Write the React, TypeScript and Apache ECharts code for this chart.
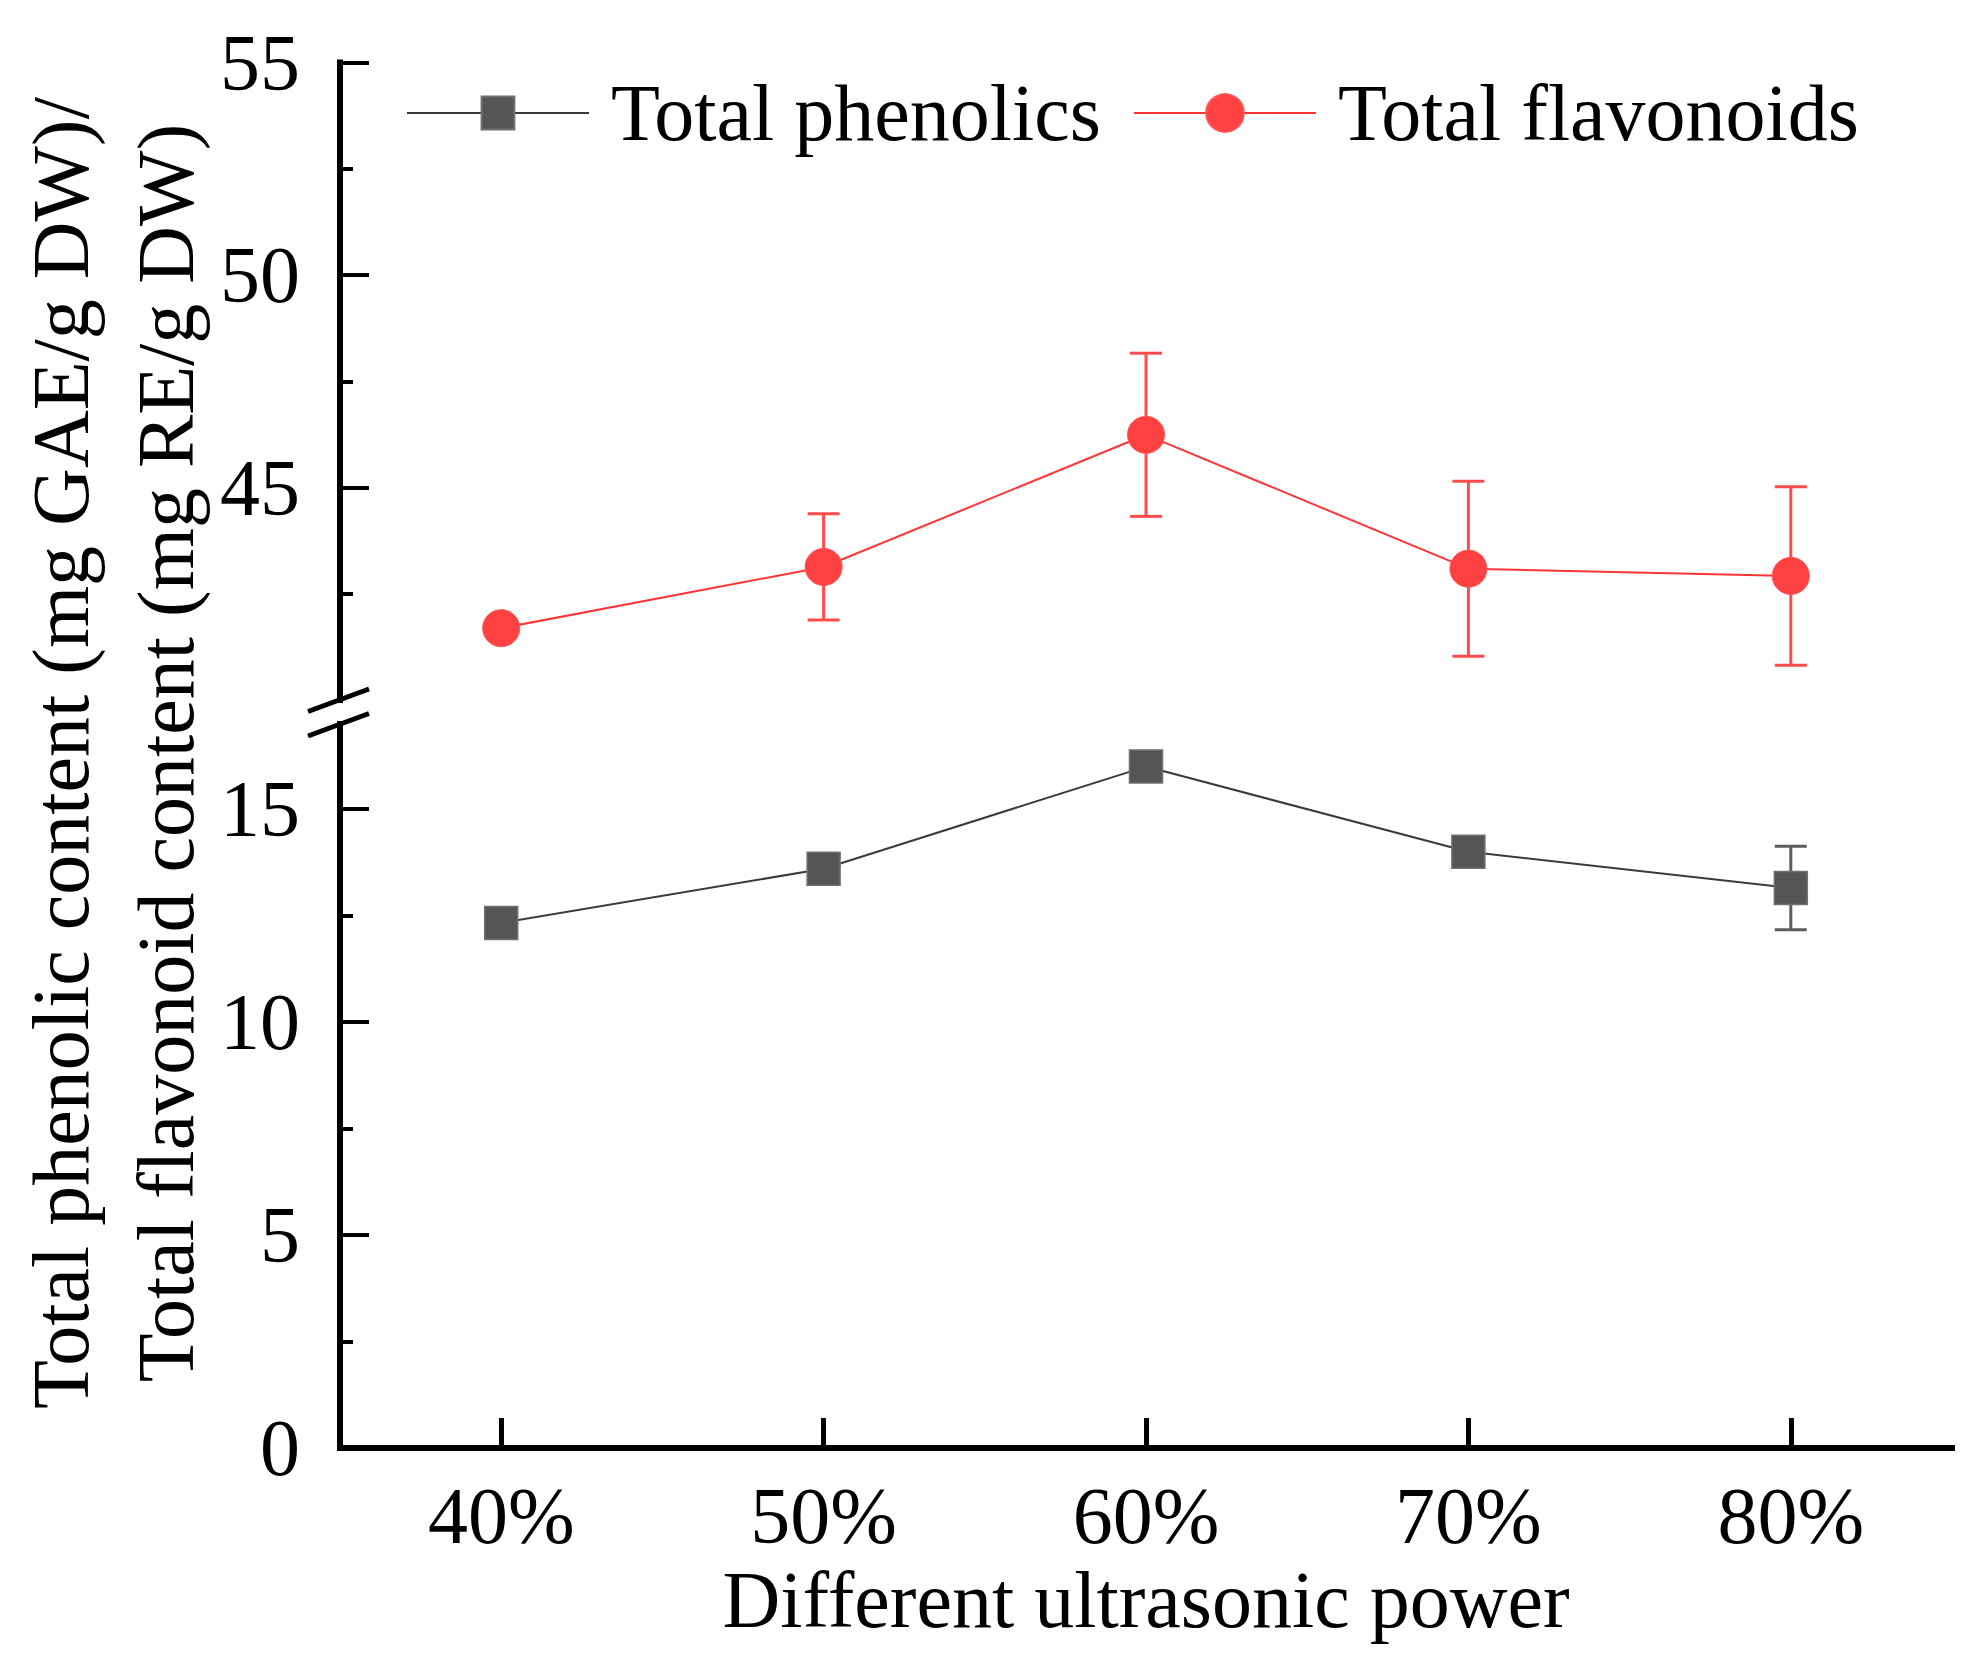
import React, { useEffect, useRef } from "react";
import * as echarts from "echarts";

const categories = ["40%", "50%", "60%", "70%", "80%"];
const phenolics = [12.33, 13.6, 16.0, 14.0, 13.15];
const phenolicsErr = [0.3, 0.35, 0.35, 0.3, 0.98];
const flavonoids = [41.69, 43.13, 46.24, 43.09, 42.92];
const flavonoidsErr = [0.15, 1.25, 1.92, 2.06, 2.1];

const upperMajor = [45, 50, 55];
const upperMinor = [42.5, 47.5, 52.5];
const lowerMajor = [0, 5, 10, 15];
const lowerMinor = [2.5, 7.5, 12.5];

const FONT = "'Liberation Serif', 'Times New Roman', serif";
const GL = 340;
const GW = 1612;
const UT = 62.5;
const UH = 637.5;
const LT = 724;
const LH = 724;

function errorRender(color: string) {
  return (params: any, api: any) => {
    const x = api.value(0);
    const v = api.value(1);
    const e = api.value(2);
    const top = api.coord([x, v + e]);
    const bot = api.coord([x, v - e]);
    const hw = 16;
    const style = { stroke: color, lineWidth: 3 };
    return {
      type: "group",
      children: [
        { type: "line", shape: { x1: top[0], y1: top[1], x2: bot[0], y2: bot[1] }, style },
        { type: "line", shape: { x1: top[0] - hw, y1: top[1], x2: top[0] + hw, y2: top[1] }, style },
        { type: "line", shape: { x1: bot[0] - hw, y1: bot[1], x2: bot[0] + hw, y2: bot[1] }, style },
      ],
    };
  };
}

export default function App() {
  const ref = useRef<HTMLDivElement>(null);
  useEffect(() => {
    document.body.style.margin = "0";
    const chart = echarts.init(ref.current!, null, { renderer: "svg" });
    const axisLineStyle = { color: "#000", width: 6, cap: "square" };
    const labelStyle = { color: "#000", fontSize: 80, fontFamily: FONT };
    const majorY = (gridIndex: number, min: number, max: number, vals: number[]) => ({
      type: "value",
      gridIndex,
      position: "left",
      min,
      max,
      interval: 5,
      axisLine: { show: true, onZero: false, lineStyle: axisLineStyle },
      axisTick: { show: true, inside: true, length: 29, lineStyle: { color: "#000", width: 4 }, customValues: vals },
      axisLabel: { show: true, margin: 40, customValues: vals, ...labelStyle },
      splitLine: { show: false },
    });
    const minorY = (gridIndex: number, min: number, max: number, vals: number[]) => ({
      type: "value",
      gridIndex,
      position: "left",
      offset: 0,
      min,
      max,
      interval: 5,
      axisLine: { show: false, onZero: false },
      axisTick: { show: true, inside: true, length: 13, lineStyle: { color: "#000", width: 4 }, customValues: vals },
      axisLabel: { show: false },
      splitLine: { show: false },
    });
    const option: any = {
      animation: false,
      backgroundColor: "#fff",
      textStyle: { fontFamily: FONT },
      grid: [
        { left: GL, top: UT, width: GW, height: UH, outerBoundsMode: "none" },
        { left: GL, top: LT, width: GW, height: LH, outerBoundsMode: "none" },
      ],
      legend: [
        {
          data: ["Total phenolics"],
          left: 406,
          top: 73,
          padding: 0,
          itemWidth: 182,
          itemHeight: 41,
          textStyle: { ...labelStyle, padding: [0, 0, 0, 17] },
        },
        {
          data: ["Total flavonoids"],
          left: 1133,
          top: 73,
          padding: 0,
          itemWidth: 182,
          itemHeight: 47,
          textStyle: { ...labelStyle, padding: [0, 0, 0, 17] },
        },
      ],
      xAxis: [
        { type: "category", gridIndex: 0, data: categories, boundaryGap: true, show: false },
        {
          type: "category",
          gridIndex: 1,
          data: categories,
          boundaryGap: true,
          axisLine: { show: true, onZero: false, lineStyle: axisLineStyle },
          axisTick: { show: true, inside: true, alignWithLabel: true, length: 30, lineStyle: { color: "#000", width: 5 } },
          axisLabel: { margin: 28, ...labelStyle },
          name: "Different ultrasonic power",
          nameLocation: "middle",
          nameGap: 112,
          nameTextStyle: { ...labelStyle },
        },
      ],
      yAxis: [
        majorY(0, 40, 55, upperMajor),
        minorY(0, 40, 55, upperMinor),
        majorY(1, 0, 17, lowerMajor),
        minorY(1, 0, 17, lowerMinor),
      ],
      graphic: [
        {
          type: "text",
          x: 113,
          y: 753,
          rotation: Math.PI / 2,
          style: {
            text: "Total phenolic content (mg GAE/g DW)/\nTotal flavonoid content (mg RE/g DW)",
            fill: "#000",
            font: `80px ${FONT}`,
            fontSize: 80,
            fontFamily: FONT,
            align: "center",
            verticalAlign: "middle",
            lineHeight: 105,
          },
        },
        {
          type: "line",
          shape: { x1: 308, y1: 711.5, x2: 369, y2: 689 },
          style: { stroke: "#000", lineWidth: 5 },
        },
        {
          type: "line",
          shape: { x1: 308, y1: 736, x2: 369, y2: 713.5 },
          style: { stroke: "#000", lineWidth: 5 },
        },
      ],
      series: [
        {
          name: "Total phenolics err",
          type: "custom",
          xAxisIndex: 1,
          yAxisIndex: 2,
          z: 1,
          encode: { x: 0, y: 1 },
          data: categories.map((c, i) => [i, phenolics[i], phenolicsErr[i]]),
          renderItem: errorRender("#5c5c5c"),
        },
        {
          name: "Total flavonoids err",
          type: "custom",
          xAxisIndex: 0,
          yAxisIndex: 0,
          z: 1,
          encode: { x: 0, y: 1 },
          data: categories.map((c, i) => [i, flavonoids[i], flavonoidsErr[i]]),
          renderItem: errorRender("#ff4d4d"),
        },
        {
          name: "Total phenolics",
          type: "line",
          xAxisIndex: 1,
          yAxisIndex: 2,
          z: 3,
          data: phenolics,
          symbol: "rect",
          symbolSize: 33,
          lineStyle: { color: "#3a3a3a", width: 2 },
          itemStyle: { color: "#555555", borderColor: "#707070", borderWidth: 1.5 },
        },
        {
          name: "Total flavonoids",
          type: "line",
          xAxisIndex: 0,
          yAxisIndex: 0,
          z: 3,
          data: flavonoids,
          symbol: "circle",
          symbolSize: 37,
          lineStyle: { color: "#ff3535", width: 2 },
          itemStyle: { color: "#ff4141", borderColor: "#ff5555", borderWidth: 1 },
        },
      ],
    };
    chart.setOption(option);
    return () => chart.dispose();
  }, []);
  return <div ref={ref} style={{ width: 1986, height: 1673 }} />;
}
